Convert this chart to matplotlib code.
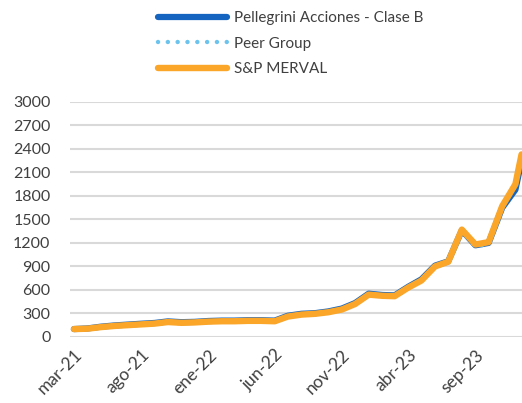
import matplotlib
matplotlib.use("Agg")
import matplotlib.pyplot as plt
import pandas as pd

plt.rcParams['font.family'] = ['Lato', 'DejaVu Sans']

# monthly dates mar-21 .. dic-23 plus a final mid-December point
dates = list(pd.date_range("2021-03-01", "2023-12-01", freq="MS")) + [pd.Timestamp("2023-12-15")]

merval = [100, 105, 125, 140, 150, 160, 170, 190, 180, 185, 195, 200, 200, 205, 205, 200,
          260, 285, 295, 315, 350, 420, 540, 525, 520, 630, 720, 900, 960, 1370, 1180, 1210,
          1670, 1950, 2330]
pellegrini = [100, 108, 130, 146, 157, 168, 178, 198, 188, 192, 203, 208, 208, 213, 213, 208,
              270, 295, 303, 325, 362, 432, 552, 535, 530, 640, 735, 910, 965, 1360, 1170, 1200,
              1650, 1880, 2250]
peer = [100, 104, 122, 137, 147, 157, 167, 186, 177, 182, 192, 197, 197, 201, 201, 197,
        255, 280, 290, 310, 345, 414, 532, 518, 512, 620, 712, 890, 950, 1350, 1155, 1185,
        1655, 1930, 2310]

tick_dates = pd.date_range("2021-03-01", "2023-09-01", freq="5MS")
tick_labels = ["mar-21", "ago-21", "ene-22", "jun-22", "nov-22", "abr-23", "sep-23"]
y_ticks = list(range(0, 3001, 300))

text_color = "#404040"

fig = plt.figure(figsize=(5.22, 4.03), dpi=100)
ax = fig.add_axes([0.134, 0.164, 0.866, 0.583])

l1, = ax.plot(dates, pellegrini, color="#1565C0", lw=4.5, solid_capstyle="round",
              label="Pellegrini Acciones - Clase B", zorder=2)
l2, = ax.plot(dates, peer, color="#6CC4EE", lw=3.2, linestyle=(0, (0.01, 2.2)),
              dash_capstyle="round", label="Peer Group", zorder=3)
l3, = ax.plot(dates, merval, color="#FBA629", lw=4.6, solid_capstyle="round",
              label="S&P MERVAL", zorder=4)

ax.set_ylim(0, 3000)
ax.set_yticks(y_ticks)
ax.set_xlim(pd.Timestamp("2021-02-20"), pd.Timestamp("2023-12-16"))
ax.set_xticks(tick_dates)
ax.set_xticklabels(tick_labels, rotation=45, ha="right", rotation_mode="anchor")
ax.tick_params(axis="both", length=0, labelsize=11.5, colors=text_color)
ax.tick_params(axis="x", labelsize=12.5, pad=7)
ax.tick_params(axis="y", pad=14)
ax.grid(axis="y", color="#d9d9d9", lw=1.5)
ax.set_axisbelow(True)
for s in ax.spines.values():
    s.set_visible(False)

leg = fig.legend(handles=[l1, l2, l3], loc="upper left", bbox_to_anchor=(0.285, 0.995),
                 frameon=False, fontsize=11, handlelength=4.5, labelspacing=0.76,
                 handletextpad=0.5, borderaxespad=0.2)
for t in leg.get_texts():
    t.set_color(text_color)

fig.savefig("out.png", dpi=100)
